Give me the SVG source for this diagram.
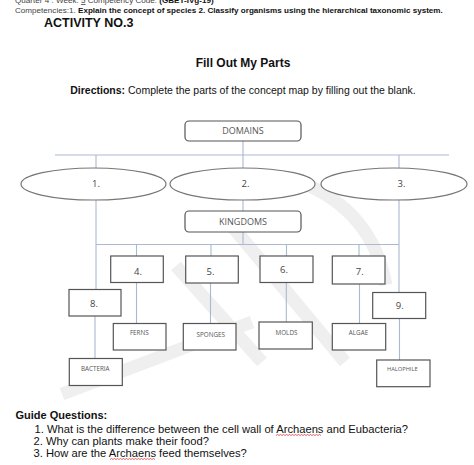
<svg xmlns="http://www.w3.org/2000/svg" width="474" height="465" viewBox="0 0 474 465">
<style>
.hd{font-family:"Liberation Sans",Arial,sans-serif;fill:#111}
.b{font-weight:bold}
.box{fill:#fff;stroke:#555;stroke-width:1.2}
.ell{fill:#fff;stroke:#777;stroke-width:1.2}
.lbl{font-family:"Open Sans","Liberation Sans",sans-serif;fill:#555;text-anchor:middle}
.big{font-size:9px}
.sm{font-size:6.3px}
.num{font-size:9.5px;fill:#444}
.con{stroke:#aab9cf;stroke-width:1.1;fill:none}
.wm{stroke:#efefef;stroke-width:13;fill:none;stroke-linecap:butt}
.sq{stroke:#e02020;stroke-width:0.7;fill:none}
</style>
<rect width="474" height="465" fill="#fff"/>
<g id="watermark">
<path class="wm" d="M300 182 Q372 210 386 285"/>
<path class="wm" d="M232 226 L345 362"/>
<path class="wm" d="M176 266 L262 362"/>
<path class="wm" d="M62 394 L252 322"/>
</g>
<g id="header">
<text class="hd" x="15" y="3" font-size="8.1"><tspan fill="#444">Quarter 4 : Week: <tspan text-decoration="underline">5</tspan> Competency Code: </tspan><tspan class="b">(GBET-IVg-19)</tspan></text>
<text class="hd" x="15" y="13" font-size="8.1"><tspan fill="#444">Competencies:1. </tspan><tspan class="b">Explain the concept of species 2. Classify organisms using the hierarchical taxonomic system.</tspan></text>
<text class="hd b" x="44" y="26.5" font-size="12.5">ACTIVITY NO.3</text>
<text class="hd b" x="243" y="66.5" font-size="12" text-anchor="middle">Fill Out My Parts</text>
<text class="hd" x="243" y="94.3" font-size="10.5" text-anchor="middle"><tspan class="b">Directions:</tspan> Complete the parts of the concept map by filling out the blank.</text>
</g>
<g id="connectors">
<path class="con" d="M243 141 V155 M55 155 H449 M96 155 V168 M243 155 V168 M399 155 V168"/>
<path class="con" d="M243 200 V211 M243 232 V244.5 M96 244.5 H399"/>
<path class="con" d="M96 200 V289.5 M399 200 V292.5"/>
<path class="con" d="M136.5 244.5 V256 M211 244.5 V256 M286.5 244.5 V256 M359 244.5 V256"/>
<path class="con" d="M136.5 282.5 V323.5 M210.5 283 V323.5 M286.3 282.5 V322 M359.5 284 V323.5 M95 316 V358.5 M399.5 318.5 V360"/>
</g>
<g id="domains"><rect class="box" x="185" y="121" width="116" height="20" rx="4"/><text class="lbl big" x="243" y="134.2">DOMAINS</text></g>
<g id="e1"><ellipse class="ell" cx="93.5" cy="184" rx="72.5" ry="16"/><text class="lbl num" x="96" y="186.5">1.</text></g>
<g id="e2"><ellipse class="ell" cx="242.5" cy="184" rx="72.5" ry="16"/><text class="lbl num" x="245.5" y="186.5">2.</text></g>
<g id="e3"><ellipse class="ell" cx="394" cy="184" rx="73" ry="16"/><text class="lbl num" x="401.5" y="186.5">3.</text></g>
<g id="kingdoms"><rect class="box" x="185" y="211" width="116" height="21" rx="4"/><text class="lbl big" x="243" y="224.5">KINGDOMS</text></g>
<g id="n4"><rect class="box" x="110.7" y="256" width="52.6" height="26.5"/><text class="lbl num" x="138" y="275">4.</text></g>
<g id="n5"><rect class="box" x="185.7" y="256" width="52.6" height="27"/><text class="lbl num" x="210.5" y="275">5.</text></g>
<g id="n6"><rect class="box" x="260" y="256" width="53" height="26.5"/><text class="lbl num" x="284" y="272.5">6.</text></g>
<g id="n7"><rect class="box" x="332.3" y="256" width="52.7" height="28"/><text class="lbl num" x="359.7" y="275">7.</text></g>
<g id="n8"><rect class="box" x="69" y="289.5" width="52" height="26.5"/><text class="lbl num" x="94" y="306.5">8.</text></g>
<g id="n9"><rect class="box" x="372.7" y="292.5" width="53" height="26"/><text class="lbl num" x="399.7" y="309">9.</text></g>
<g id="ferns"><rect class="box" x="113.3" y="323.5" width="52.7" height="26.5"/><text class="lbl sm" x="139.3" y="335">FERNS</text></g>
<g id="sponges"><rect class="box" x="183.3" y="323.5" width="52.7" height="26.5"/><text class="lbl sm" x="210.8" y="336.5">SPONGES</text></g>
<g id="molds"><rect class="box" x="259" y="322" width="53.3" height="27"/><text class="lbl sm" x="286.5" y="335">MOLDS</text></g>
<g id="algae"><rect class="box" x="332.3" y="323.5" width="53.4" height="26.5"/><text class="lbl sm" x="358.5" y="335">ALGAE</text></g>
<g id="bacteria"><rect class="box" x="69.3" y="358.5" width="53" height="27"/><text class="lbl sm" x="95.3" y="371">BACTERIA</text></g>
<g id="halophile"><rect class="box" x="376.7" y="360" width="53.3" height="26.7"/><text class="lbl" x="402.3" y="371" font-size="5.7">HALOPHILE</text></g>
<g id="questions">
<text class="hd b" x="15.5" y="419.3" font-size="11">Guide Questions:</text>
<text class="hd" x="34.5" y="433.3" font-size="11.2">1. What is the difference between the cell wall of Archaens and Eubacteria?</text>
<text class="hd" x="33.5" y="445" font-size="11.2">2. Why can plants make their food?</text>
<text class="hd" x="33.5" y="457.3" font-size="11.2">3. How are the Archaens feed themselves?</text>
<path class="sq" d="M276 435.5 l1.5 -1 l1.5 1 l1.5 -1 l1.5 1 l1.5 -1 l1.5 1 l1.5 -1 l1.5 1 l1.5 -1 l1.5 1 l1.5 -1 l1.5 1 l1.5 -1 l1.5 1 l1.5 -1 l1.5 1 l1.5 -1 l1.5 1 l1.5 -1 l1.5 1 l1.5 -1 l1.5 1 l1.5 -1 l1.5 1 l1.5 -1 l1.5 1 l1.5 -1 l1.5 1 l1.5 -1 l1.5 1"/>
<path class="sq" d="M110 459.5 l1.5 -1 l1.5 1 l1.5 -1 l1.5 1 l1.5 -1 l1.5 1 l1.5 -1 l1.5 1 l1.5 -1 l1.5 1 l1.5 -1 l1.5 1 l1.5 -1 l1.5 1 l1.5 -1 l1.5 1 l1.5 -1 l1.5 1 l1.5 -1 l1.5 1 l1.5 -1 l1.5 1 l1.5 -1 l1.5 1 l1.5 -1 l1.5 1 l1.5 -1 l1.5 1 l1.5 -1 l1.5 1"/>
</g>
</svg>
